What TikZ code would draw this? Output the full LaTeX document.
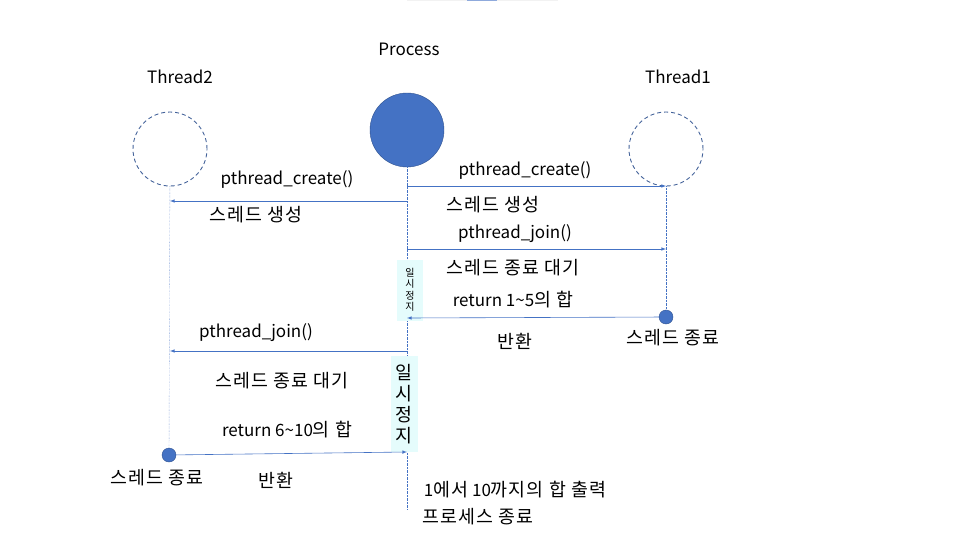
\documentclass[tikz,border=0pt]{standalone}
\usepackage{fontspec}
\setmainfont{Noto Sans CJK KR}
\newfontfamily\krfont[Scale=1.08,LetterSpace=6]{Noto Sans CJK KR}
\newcommand{\kr}[1]{{\krfont #1}}
\usetikzlibrary{positioning,arrows}
\definecolor{procblue}{HTML}{4472C4}
\definecolor{procedge}{HTML}{2F528F}
\definecolor{pausefill}{HTML}{E5FCFC}
\tikzstyle{lbl}=[inner sep=1pt, font=\fontsize{17}{20}\selectfont]
\tikzstyle{thr}=[circle, draw=procedge!90, line width=0.9pt, dash pattern=on 4pt off 3pt, minimum size=74pt, inner sep=0pt]
\tikzstyle{proc}=[circle, draw=procedge, fill=procblue, minimum size=74pt, inner sep=0pt]
\tikzstyle{dot}=[circle, draw=procedge, fill=procblue, minimum size=14pt, inner sep=0pt]
\tikzstyle{life}=[procblue, densely dotted, thin]
\tikzstyle{msg}=[procblue, ->, line width=0.6pt]
\tikzstyle{pause}=[fill=pausefill, inner sep=0pt, align=center]

\begin{document}
\begin{tikzpicture}[x=1pt,y=-1pt,>=latex]
\useasboundingbox (0,0) rectangle (966,543);
% slide leftovers at the top
\fill[gray!10] (407,0) rectangle (558,1.5);
\fill[procblue!60] (467,0) rectangle (497,1.5);

% process and threads
\node[proc] at (407,130) (proc) {};
\node[lbl] at (409,49) (proclbl) {Process};
\node[thr] at (170,149) (thr2) {};
\node[lbl] at (180,77) (thr2lbl) {Thread2};
\node[thr] at (666,149) (thr1) {};
\node[lbl] at (678,77) (thr1lbl) {Thread1};

\node[dot] at (666,317) (end1) {};
\node[dot] at (169,455) (end2) {};
\node[lbl] at (673,338) {\kr{스레드 종료}};
\node[lbl] at (157,478) {\kr{스레드 종료}};

% lifelines
\coordinate (pend) at (407,510);
\draw[life] (proc) -- (pend);
\draw[life] (thr2) -- (end2);
\draw[life] (thr1) -- (end1);

% pauses
\node[pause, minimum width=26pt, minimum height=61pt, font=\fontsize{10}{11.5}\selectfont] at (410,290) (pause1) {일\\시\\정\\지};
\node[pause, minimum width=27pt, minimum height=96pt, font=\fontsize{17}{21}\selectfont] at (404,404) (pause2) {\kr{일}\\\kr{시}\\\kr{정}\\\kr{지}};

% thread1
\coordinate (a1) at (407,186); \coordinate (b1) at (666,186);
\draw[msg] (a1) -- (b1);
\node[lbl] at (525,170) {pthread\_create()};
\node[lbl] at (493,205) {\kr{스레드 생성}};

\coordinate (a3) at (407,249); \coordinate (b3) at (666,249);
\draw[msg] (a3) -- (b3);
\node[lbl] at (515,234) {pthread\_join()};
\node[lbl] at (513,268) {\kr{스레드 종료 대기}};

\coordinate (b4) at (407,318);
\draw[msg] (end1) -- (b4);
\node[lbl] at (513,300) {return 1\textasciitilde5\kr{의 합}};
\node[lbl] at (515,341) {\kr{반환}};

% thread2
\coordinate (a2) at (407,201); \coordinate (b2) at (170,201);
\draw[msg] (a2) -- (b2);
\node[lbl] at (287,179) {pthread\_create()};
\node[lbl] at (256,215) {\kr{스레드 생성}};

\coordinate (a5) at (407,351); \coordinate (b5) at (170,351);
\draw[msg] (a5) -- (b5);
\node[lbl] at (256,333) {pthread\_join()};
\node[lbl] at (282,381) {\kr{스레드 종료 대기}};

\coordinate (b6) at (407,452);
\draw[msg] (end2) -- (b6);
\node[lbl] at (287,430) {return 6\textasciitilde10\kr{의 합}};
\node[lbl] at (276,480) {\kr{반환}};

% end of process
\node[lbl] at (515,490) {1\kr{에서} 10\kr{까지의 합 출력}};
\node[lbl] at (478,517) {\kr{프로세스 종료}};
\end{tikzpicture}
\end{document}
